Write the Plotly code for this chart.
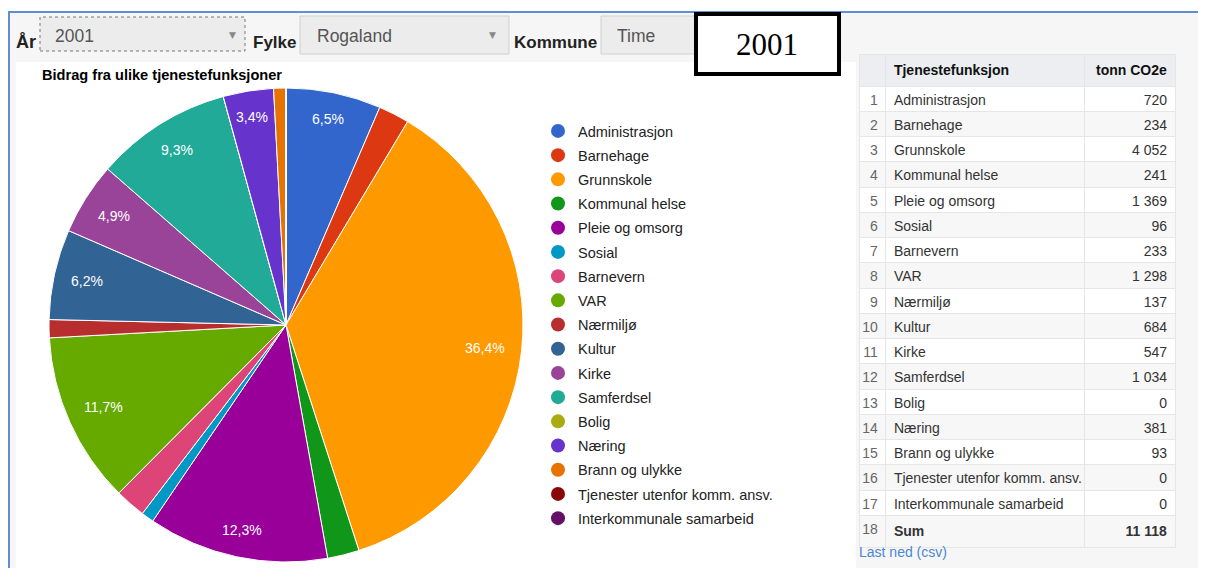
import math
import plotly.graph_objects as go

# ---------------- data ----------------
categories = ["Administrasjon", "Barnehage", "Grunnskole", "Kommunal helse",
              "Pleie og omsorg", "Sosial", "Barnevern", "VAR", "Nærmiljø",
              "Kultur", "Kirke", "Samferdsel", "Bolig", "Næring",
              "Brann og ulykke", "Tjenester utenfor komm. ansv.",
              "Interkommunale samarbeid"]
values = [720, 234, 4052, 241, 1369, 96, 233, 1298, 137, 684, 547, 1034,
          0, 381, 93, 0, 0]
table_sum = 11118          # sum as printed in the source table
colors = ["#3366cc", "#dc3912", "#ff9900", "#109618", "#990099", "#0099c6",
          "#dd4477", "#66aa00", "#b82e2e", "#316395", "#994499", "#22aa99",
          "#aaaa11", "#6633cc", "#e67300", "#8b0707", "#651067"]
year = "2001"
fylke = "Rogaland"
kommune = "Time"
chart_title = "Bidrag fra ulike tjenestefunksjoner"
table_headers = ["", "Tjenestefunksjon", "tonn CO2e"]

# the page body has an 8px margin, so the figure starts at (8, 8)
OFF = 8
W, H = 1206 - OFF, 568 - OFF
FONT = "Liberation Sans, Arial, sans-serif"
PAGE_BG = "#f6f6f6"


def px(x):
    return (x - OFF) / W


def py(y):
    return 1 - (y - OFF) / H


def fmt_num(v):
    return f"{v:,}".replace(",", " ")


total = sum(values)

fig = go.Figure()

# ---------------- pie ----------------
pie_x0, pie_x1, pie_y0, pie_y1 = 49, 523, 88, 562
fig.add_trace(go.Pie(
    labels=categories, values=values, sort=False, direction="clockwise",
    rotation=0, marker=dict(colors=colors, line=dict(color="white", width=1)),
    textinfo="none", showlegend=False, hoverinfo="label+percent",
    domain=dict(x=[px(pie_x0), px(pie_x1)], y=[py(pie_y1), py(pie_y0)]),
))

# percentage labels near the rim (Google charts style)
cx, cy = (pie_x0 + pie_x1) / 2, (pie_y0 + pie_y1) / 2
R = (pie_x1 - pie_x0) / 2
annotations = []
cum = 0
for v in values:
    share = v / total
    if share >= 0.03:
        a = 2 * math.pi * (cum + v / 2) / total
        lbl = f"{share * 100:.1f}%".replace(".", ",")
        nd = sum(ch.isdigit() for ch in lbl)
        w = 14 * (0.556 * nd + 0.278 + 0.889)
        d = 0.932 * R - (w / 2) * abs(math.sin(a)) - 7.5 * abs(math.cos(a))
        annotations.append(dict(
            x=px(cx + d * math.sin(a)), y=py(cy - d * math.cos(a)),
            xref="paper", yref="paper", text=lbl, showarrow=False,
            font=dict(family=FONT, size=14, color="white"),
            xanchor="center", yanchor="middle"))
    cum += v

# ---------------- legend (circle markers) ----------------
for i, (c, col) in enumerate(zip(categories, colors)):
    fig.add_trace(go.Scatter(
        x=[None], y=[None], mode="markers", name=c, legendgroup=f"g{i}",
        marker=dict(color=col, size=14, symbol="circle"),
        xaxis="x", yaxis="y"))

# ---------------- table (header drawn as the first row) ----------------
NBSP = "\u00a0"
idx_col = ([table_headers[0] or NBSP]
           + [str(i + 1) for i in range(len(categories) + 1)])
name_col = ([table_headers[1]]
            + [c.replace(" ", NBSP) for c in categories] + ["Sum"])
val_col = ([table_headers[2]]
           + [fmt_num(v) for v in values] + [fmt_num(table_sum)])
nrows = len(idx_col)
# bold header row and sum row
name_col = [f"<b>{t}</b>" if i in (0, nrows - 1) else t
            for i, t in enumerate(name_col)]
val_col = [f"<b>{t}</b>" if i in (0, nrows - 1) else t
           for i, t in enumerate(val_col)]
row_fill = ["#eceef2"] + ["white" if i % 2 == 0 else "#f7f7f7"
                          for i in range(nrows - 1)]
idx_color = ["#111"] + ["#666"] * (nrows - 1)
txt_color = ["#111"] + ["#333"] * (nrows - 1)
HDR = 20   # plotly always draws a header block; keep it invisible
TOP = 58
fig.add_trace(go.Table(
    domain=dict(x=[px(859), px(1176)], y=[py(548), py(TOP - HDR)]),
    columnwidth=[27, 199, 91],
    header=dict(values=[], height=HDR, fill_color=PAGE_BG,
                line=dict(width=0, color=PAGE_BG)),
    cells=dict(values=[idx_col, name_col, val_col],
               fill_color=[row_fill, row_fill, row_fill],
               line_color="#e6e6e6",
               align=["right", "left", "right"], height=25.25,
               font=dict(family=FONT, size=14,
                         color=[idx_color, txt_color, txt_color])),
))

# ---------------- page decorations ----------------
shapes = [
    # light grey page area inside frame
    dict(type="rect", xref="paper", yref="paper", x0=px(9), x1=1, y0=0,
         y1=py(12), fillcolor=PAGE_BG, line=dict(width=0), layer="below"),
    # white chart area
    dict(type="rect", xref="paper", yref="paper", x0=px(16), x1=px(856),
         y0=0, y1=py(62), fillcolor="white", line=dict(width=0),
         layer="below"),
    # blue frame
    dict(type="line", xref="paper", yref="paper", x0=px(8), x1=1,
         y0=py(12), y1=py(12), line=dict(color="#5d8fd2", width=2)),
    dict(type="line", xref="paper", yref="paper", x0=px(9), x1=px(9),
         y0=0, y1=py(12), line=dict(color="#5d8fd2", width=2)),
    # dropdowns
    dict(type="rect", xref="paper", yref="paper", x0=px(40), x1=px(245),
         y0=py(51), y1=py(17), fillcolor="#ececec",
         line=dict(color="#777", width=1, dash="dot"), layer="below"),
    dict(type="rect", xref="paper", yref="paper", x0=px(300), x1=px(509),
         y0=py(54), y1=py(16), fillcolor="#ececec",
         line=dict(color="#d0d0d0", width=1), layer="below"),
    dict(type="rect", xref="paper", yref="paper", x0=px(601), x1=px(720),
         y0=py(54), y1=py(16), fillcolor="#ececec",
         line=dict(color="#d0d0d0", width=1), layer="below"),
    # black year box
    dict(type="rect", xref="paper", yref="paper", x0=px(696), x1=px(839),
         y0=py(74), y1=py(14), fillcolor="white",
         line=dict(color="black", width=4)),
]

lab_font = dict(family=FONT, size=17, color="#222")
dd_font = dict(family=FONT, size=17.5, color="#555")
caret_font = dict(family="DejaVu Sans", size=9, color="#888")


def ann(x, y, text, font, xanchor="left"):
    annotations.append(dict(x=px(x), y=py(y), xref="paper", yref="paper",
                            text=text, showarrow=False, font=font,
                            xanchor=xanchor, yanchor="middle"))


ann(14, 42, "<b>År</b>", dict(family=FONT, size=18, color="#222"))
ann(53, 36, year, dd_font)
ann(232, 35, "▼", caret_font, "center")
ann(251, 42, "<b>Fylke</b>", lab_font)
ann(315, 36, fylke, dd_font)
ann(492, 35, "▼", caret_font, "center")
ann(512, 42, "<b>Kommune</b>", lab_font)
ann(615, 36, kommune, dd_font)
ann(767, 45, year, dict(family="Liberation Serif, Times New Roman, serif",
                        size=31, color="black"), "center")
ann(40, 75, f"<b>{chart_title}</b>",
    dict(family=FONT, size=14.6, color="#000"))
ann(857, 552, "Last ned (csv)", dict(family=FONT, size=14, color="#4a86d4"))

fig.update_layout(
    width=W, height=H, margin=dict(l=0, r=0, t=0, b=0),
    paper_bgcolor="white", plot_bgcolor="rgba(0,0,0,0)",
    separators=", ",
    xaxis=dict(visible=False, domain=[0, 0.01]),
    yaxis=dict(visible=False, domain=[0, 0.01]),
    shapes=shapes, annotations=annotations,
    legend=dict(x=px(538), y=py(115), xanchor="left", yanchor="top",
                traceorder="grouped", tracegroupgap=2.35,
                itemsizing="trace", bgcolor="rgba(0,0,0,0)",
                font=dict(family=FONT, size=14.5, color="#222")),
    showlegend=True,
)

fig.write_html("out.html")
